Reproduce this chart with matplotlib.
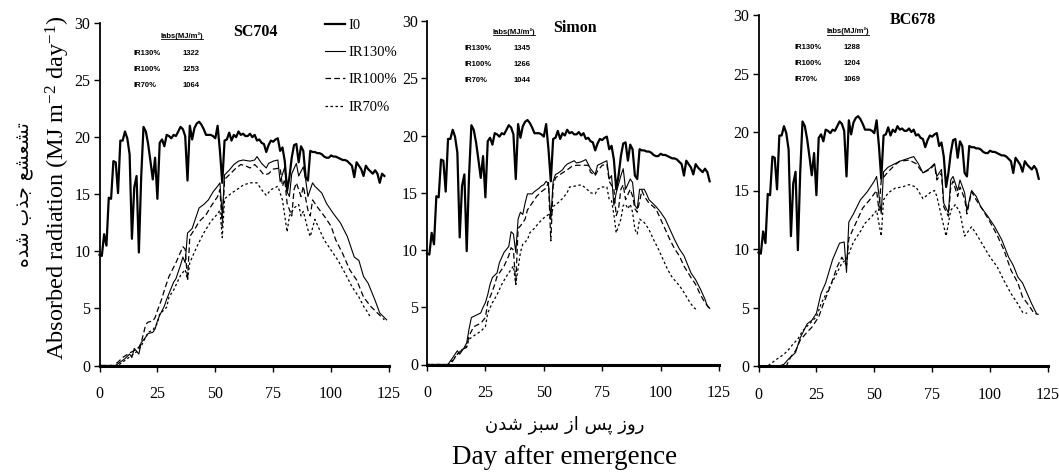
"""
Daily incident and absorbed radiation for three maize hybrids.

Three panels (SC704, Simon, BC678) share the incident radiation curve I0 and
each show the radiation absorbed under three irrigation levels. The small
table in each panel gives the seasonal total of absorbed radiation.

Values were read off the published figure by eye.

Run with:
    python plot.py
"""

import matplotlib
matplotlib.use("Agg")
import matplotlib.pyplot as plt
from matplotlib.lines import Line2D


# Incident radiation, one value per day after emergence (day 0 .. 123).
I0_DAILY = [
    9.7, 9.6, 11.5, 10.5, 14.7, 14.6, 17.9, 17.8, 15.1, 19.7,
    19.7, 20.5, 19.9, 18.5, 11.1, 15.6, 16.6, 9.9, 16.5, 20.9,
    20.5, 19.4, 17.9, 16.3, 18.2, 14.6, 19.5, 19.8, 19.2, 20.2,
    20.1, 19.9, 20.2, 20.1, 20.5, 20.9, 20.7, 20.1, 16.2, 21.0,
    19.8, 20.8, 21.2, 21.35, 21.1, 20.7, 20.2, 20.2, 20.2, 20.1,
    19.9, 21.0, 18.8, 16.0, 19.7, 19.8, 20.4, 19.7, 20.2, 20.0,
    20.5, 20.2, 20.3, 20.1, 20.1, 20.3, 20.0, 20.2, 19.7, 19.8,
    19.5, 19.4, 18.7, 19.3, 19.7, 19.6, 19.8, 19.9, 18.8, 19.1,
    17.9, 15.3, 16.5, 18.2, 19.3, 19.4, 17.8, 19.2, 18.8, 16.5,
    16.2, 18.8, 18.7, 18.7, 18.6, 18.6, 18.5, 18.3, 18.2, 18.2,
    18.4, 18.3, 18.3, 18.2, 18.1, 18.0, 18.0, 17.9, 17.7, 17.5,
    16.5, 17.8, 17.5, 17.2, 16.6, 17.5, 17.2, 17.0, 16.8, 17.1,
    16.8, 16.0, 16.8, 16.6,
]

HYBRIDS = ["SC704", "Simon", "BC678"]
# last day of I0 drawn in each panel
I0_LAST_DAY = [123, 121, 121]

TREATMENTS = ["IR130%", "IR100%", "IR70%"]
# seasonal absorbed radiation, MJ/m2, rows follow TREATMENTS
IABS_TOTALS = [
    [1322, 1253, 1064],
    [1345, 1266, 1044],
    [1288, 1204, 1069],
]

# absorbed radiation, (day, MJ m-2 day-1)
SC704_IR130 = [
    (0, 0), (7, 0), (9, 0.3), (11, 0.6), (13, 1.0), (14, 0.7), (15, 1.5),
    (17, 1.0), (18, 2.0), (20, 2.5), (21, 2.8), (23, 2.9), (24, 3.2),
    (25, 3.9), (26, 4.4), (28, 5.2), (29, 5.8), (30, 6.3), (32, 7.3),
    (33, 7.6), (35, 8.8), (36, 9.5), (37, 9.0), (38, 11.6), (40, 12.0),
    (41, 12.6), (43, 13.8), (45, 14.1), (47, 14.5), (49, 15.2), (51, 15.7),
    (52, 16.0), (53, 13.1), (54, 16.7), (56, 17.1), (58, 17.6), (60, 17.9),
    (62, 18.0), (65, 17.9), (67, 18.0), (68, 18.3), (70, 17.7), (72, 17.3),
    (73, 17.7), (75, 17.9), (77, 18.0), (78, 16.1), (80, 17.4), (81, 15.2),
    (82, 14.8), (83, 16.8), (85, 17.7), (86, 16.6), (88, 17.4), (89, 16.3),
    (90, 14.8), (92, 16.0), (93, 15.7), (96, 15.1), (98, 14.2), (101, 13.3),
    (104, 12.5), (107, 11.3), (110, 9.5), (112, 9.2), (114, 7.8), (116, 7.2),
    (119, 5.7), (121, 4.6), (123, 4.2), (124, 4.0),
]
SC704_IR100 = [
    (0, 0), (6, 0), (8, 0.3), (10, 0.7), (13, 1.1), (15, 1.3), (17, 1.6),
    (18, 2.0), (20, 3.6), (21, 3.8), (23, 3.9), (24, 4.2), (25, 4.8),
    (27, 5.9), (28, 6.6), (30, 7.8), (33, 9.0), (36, 10.4), (37, 10.2),
    (38, 7.5), (39, 11.3), (41, 11.9), (43, 12.6), (46, 13.2), (48, 13.9),
    (51, 14.8), (52, 15.4), (53, 12.2), (54, 16.3), (57, 16.9), (59, 17.3),
    (61, 17.6), (63, 17.5), (65, 17.3), (67, 17.6), (69, 17.2), (71, 16.7),
    (73, 16.8), (75, 17.2), (78, 17.3), (79, 15.7), (80, 16.3), (81, 14.2),
    (83, 13.1), (84, 15.4), (85, 16.0), (87, 14.8), (88, 15.7), (90, 13.6),
    (91, 13.1), (92, 14.5), (94, 13.9), (97, 13.1), (100, 12.2), (102, 11.0),
    (105, 9.8), (108, 8.4), (111, 7.5), (114, 6.0), (117, 5.2), (120, 4.6),
    (122, 4.2), (123, 4.0),
]
SC704_IR70 = [
    (0, 0), (8, 0), (10, 0.3), (12, 0.6), (14, 0.9), (16, 1.2), (18, 1.7),
    (21, 2.9), (23, 3.1), (25, 3.7), (26, 4.5), (29, 5.1), (30, 6.0),
    (32, 6.6), (35, 7.9), (37, 8.4), (38, 7.5), (39, 9.0), (42, 10.4),
    (45, 11.6), (48, 12.6), (51, 13.3), (52, 13.6), (53, 11.2), (54, 14.6),
    (57, 15.1), (60, 15.5), (62, 15.8), (65, 16.0), (68, 16.0), (70, 15.4),
    (72, 14.9), (74, 15.4), (77, 15.7), (79, 14.5), (80, 13.1), (81, 11.7),
    (82, 13.1), (84, 13.8), (86, 14.1), (87, 13.1), (88, 13.5), (90, 11.9),
    (91, 11.3), (93, 12.8), (95, 11.9), (97, 11.0), (100, 10.1), (103, 9.2),
    (106, 8.1), (109, 6.9), (112, 6.0), (114, 5.2), (116, 4.6), (117, 4.2),
]

SIMON_IR130 = [
    (0, 0), (9, 0), (11, 0.6), (13, 1.2), (14, 0.9), (16, 1.5), (17, 1.9),
    (18, 3.1), (19, 4.1), (21, 4.3), (23, 4.5), (24, 5.0), (25, 5.4),
    (26, 6.1), (27, 7.0), (28, 7.6), (30, 8.0), (31, 8.9), (33, 9.8),
    (35, 10.3), (36, 11.6), (37, 11.4), (38, 9.8), (39, 12.7), (40, 13.3),
    (41, 13.1), (42, 14.1), (43, 14.9), (45, 14.9), (46, 15.1), (48, 15.4),
    (49, 15.6), (50, 15.7), (51, 16.0), (52, 15.8), (53, 12.7), (54, 16.0),
    (55, 16.6), (56, 16.7), (58, 17.0), (59, 17.3), (60, 17.5), (62, 17.7),
    (63, 17.8), (64, 17.6), (66, 17.7), (68, 17.9), (69, 17.5), (70, 17.1),
    (72, 16.6), (73, 17.4), (75, 17.6), (77, 17.8), (78, 16.2), (79, 16.5),
    (80, 13.9), (81, 15.0), (83, 16.5), (84, 17.1), (85, 15.3), (87, 16.2),
    (88, 15.9), (89, 13.9), (90, 13.6), (91, 15.3), (93, 15.3), (94, 14.9),
    (95, 14.4), (98, 13.8), (100, 13.3), (102, 12.7), (104, 11.8),
    (106, 10.9), (108, 10.1), (110, 9.5), (112, 8.5), (113, 8.0), (115, 7.4),
    (117, 6.6), (119, 5.7), (120, 5.1), (121, 4.9),
]
SIMON_IR100 = [
    (0, 0), (10, 0), (12, 0.6), (13, 0.9), (15, 1.3), (17, 1.5), (18, 2.5),
    (20, 3.3), (23, 3.6), (25, 4.1), (26, 5.4), (28, 6.4), (29, 7.0),
    (30, 7.7), (33, 8.6), (35, 9.5), (36, 10.2), (37, 10.0), (38, 7.0),
    (39, 11.9), (40, 12.1), (42, 12.7), (43, 13.5), (45, 14.1), (47, 14.7),
    (49, 15.1), (51, 15.4), (52, 15.9), (53, 10.8), (54, 15.6), (55, 16.3),
    (57, 16.6), (60, 17.0), (62, 17.3), (64, 17.4), (67, 17.4), (69, 17.4),
    (70, 16.8), (72, 16.5), (73, 16.9), (75, 17.4), (77, 17.5), (78, 16.0),
    (80, 15.3), (81, 13.0), (82, 13.6), (83, 15.3), (84, 15.7), (85, 14.4),
    (87, 15.3), (88, 14.7), (89, 13.6), (90, 13.3), (92, 15.2), (93, 14.7),
    (95, 14.1), (98, 13.6), (100, 12.7), (102, 11.8), (104, 10.9),
    (106, 10.1), (108, 9.5), (110, 8.6), (113, 7.6), (115, 7.0), (117, 6.1),
    (119, 5.4), (121, 4.9),
]
SIMON_IR70 = [
    (0, 0), (9, 0), (11, 0.4), (13, 0.9), (15, 1.3), (17, 1.6), (18, 2.2),
    (20, 2.5), (23, 2.9), (25, 3.3), (26, 4.5), (28, 5.4), (30, 6.1),
    (32, 7.0), (34, 7.7), (36, 8.3), (37, 8.6), (38, 7.0), (40, 9.8),
    (41, 10.5), (43, 10.9), (44, 11.5), (46, 11.9), (48, 12.4), (50, 12.8),
    (52, 13.1), (53, 12.7), (54, 13.8), (56, 14.1), (58, 14.5), (60, 15.0),
    (61, 15.5), (64, 15.6), (66, 15.7), (68, 15.4), (70, 15.0), (72, 14.9),
    (73, 15.3), (75, 15.5), (77, 15.5), (78, 14.4), (79, 14.3), (80, 13.1),
    (81, 11.5), (83, 12.7), (84, 13.9), (85, 14.0), (86, 13.6), (87, 14.0),
    (88, 13.3), (89, 11.8), (90, 11.4), (91, 12.7), (93, 12.4), (95, 11.8),
    (97, 10.9), (99, 10.1), (101, 9.2), (103, 8.3), (105, 7.6), (108, 6.9),
    (110, 6.3), (112, 5.6), (114, 5.0), (116, 4.7),
]

BC678_IR130 = [
    (0, 0), (9, 0), (11, 0.15), (13, 0.6), (16, 1.15), (18, 2.4), (21, 3.6),
    (23, 3.9), (25, 4.5), (27, 6.2), (29, 7.1), (32, 9.1), (35, 10.5),
    (37, 10.6), (38, 8.0), (39, 12.3), (41, 13.0), (44, 14.2), (47, 14.9),
    (50, 15.8), (51, 16.2), (53, 13.0), (54, 16.6), (56, 17.0), (59, 17.3),
    (61, 17.5), (64, 17.7), (67, 17.9), (69, 17.3), (71, 16.5), (74, 16.9),
    (76, 17.3), (77, 16.2), (79, 16.8), (80, 13.9), (82, 13.1), (83, 15.9),
    (84, 16.2), (86, 15.0), (87, 15.9), (89, 14.8), (90, 13.3), (92, 15.0),
    (94, 14.5), (96, 13.6), (99, 12.8), (102, 11.9), (105, 10.8), (108, 9.3),
    (110, 8.6), (112, 7.6), (114, 7.1), (116, 6.2), (118, 5.3), (120, 4.5),
]
BC678_IR100 = [
    (0, 0), (12, 0), (14, 0.8), (16, 1.3), (18, 2.2), (21, 2.9), (23, 3.3),
    (26, 4.2), (28, 5.3), (31, 6.8), (34, 8.5), (36, 9.3), (38, 8.6),
    (39, 10.9), (42, 12.2), (45, 13.5), (48, 14.2), (51, 15.0), (52, 13.3),
    (53, 15.9), (56, 16.6), (59, 17.2), (61, 17.5), (65, 17.6), (68, 17.3),
    (71, 16.5), (74, 16.8), (76, 17.2), (77, 15.9), (79, 16.5), (80, 13.6),
    (82, 12.8), (83, 15.3), (84, 15.8), (86, 14.5), (87, 15.3), (89, 14.3),
    (90, 13.0), (92, 14.9), (94, 14.2), (97, 13.3), (100, 12.3), (103, 11.2),
    (106, 9.9), (109, 8.2), (112, 7.1), (114, 5.9), (117, 5.1), (119, 4.5),
    (121, 4.4),
]
BC678_IR70 = [
    (0, 0), (4, 0), (5, 0.15), (8, 0.6), (11, 1.0), (13, 1.4), (15, 1.9),
    (17, 2.3), (19, 3.0), (22, 3.6), (25, 4.2), (27, 5.3), (30, 6.5),
    (33, 7.6), (36, 8.8), (38, 9.1), (41, 10.6), (44, 11.5), (46, 12.2),
    (49, 12.8), (51, 13.3), (53, 11.1), (54, 14.2), (56, 14.8), (59, 15.2),
    (62, 15.3), (65, 15.5), (68, 15.3), (71, 14.3), (74, 14.8), (76, 15.0),
    (77, 14.5), (79, 12.8), (81, 11.1), (83, 13.3), (85, 13.8), (87, 13.1),
    (89, 11.1), (92, 11.9), (94, 11.3), (97, 10.3), (100, 9.3), (103, 8.5),
    (106, 7.3), (109, 6.2), (112, 5.3), (114, 4.6), (116, 4.5),
]

ABSORBED = [
    [SC704_IR130, SC704_IR100, SC704_IR70],
    [SIMON_IR130, SIMON_IR100, SIMON_IR70],
    [BC678_IR130, BC678_IR100, BC678_IR70],
]

# Persian labels, stored as Arabic presentation forms in visual order
# because matplotlib does no shaping or bidi.
YLABEL_FA = "\uFEE9\uFEAA\uFEB7 \uFE8F\uFEAC\uFE9F \uFECA\uFEB8\uFECC\uFEB8\uFE97"
XLABEL_FA = "\uFEE5\uFEAA\uFEB7 \uFEB0\uFE92\uFEB3 \uFEAF\uFE8D \uFEB2\uFB58 \uFEAF\uFEED\uFEAD"
YLABEL_EN = "Absorbed radiation (MJ m$^{-2}$ day$^{-1}$)"
XLABEL_EN = "Day after emergence"

# ---- layout (pixels of a 1059 x 472 canvas) -------------------------------
W, H = 1059, 472
# left, bottom, width, height of each panel's axes
AXES_PX = [
    (99.5, 365.5, 289.5, 342.5),
    (427.0, 364.5, 292.0, 343.5),
    (758.5, 366.0, 289.5, 351.0),
]
TITLE_POS = [(0.537, 0.974), (0.507, 0.980), (0.534, 0.986)]
# label x, value right x, header centre x, header y, first row y, row step
INSET_POS = [
    (0.119, 0.347, 0.285, 0.962, 0.912, 0.047),
    (0.130, 0.353, 0.298, 0.968, 0.921, 0.047),
    (0.126, 0.351, 0.309, 0.954, 0.906, 0.045),
]
LINE_STYLES = [
    dict(ls="-", lw=0.8),
    dict(ls=(0, (4.5, 2.5)), lw=0.9),
    dict(ls=(0, (2.0, 2.0)), lw=0.9),
]
I0_STYLE = dict(ls="-", lw=1.6)

SERIF = ["Liberation Serif", "DejaVu Serif"]
SANS_SMALL = ["Liberation Sans Narrow", "Liberation Sans"]


def draw_panel(fig, k):
    l, b, w, h = AXES_PX[k]
    ax = fig.add_axes([l / W, 1 - b / H, w / W, h / H])

    n = I0_LAST_DAY[k] + 1
    ax.plot(range(n), I0_DAILY[:n], color="black", **I0_STYLE)
    for series, style in zip(ABSORBED[k], LINE_STYLES):
        days = [p[0] for p in series]
        vals = [p[1] for p in series]
        ax.plot(days, vals, color="black", **style)

    ax.set_xlim(0, 125)
    ax.set_ylim(0, 30)
    ax.set_xticks(range(0, 126, 25))
    ax.set_yticks(range(0, 31, 5))
    for side in ("top", "right"):
        ax.spines[side].set_visible(False)
    ax.spines["left"].set_linewidth(1.3)
    ax.spines["bottom"].set_linewidth(2.2)
    ax.tick_params(axis="both", direction="out", length=4, width=1,
                   labelsize=11.5)
    ax.tick_params(axis="x", pad=11)
    ax.tick_params(axis="y", pad=2.5)
    for line in ax.get_lines():
        line.set_clip_on(False)

    tx, ty = TITLE_POS[k]
    ax.text(tx, ty, HYBRIDS[k], transform=ax.transAxes, ha="center",
            va="center", fontsize=11.5, fontweight="bold")

    lx, vx, hx, hy, ry, step = INSET_POS[k]
    header = ax.text(hx, hy, "Iabs(MJ/m\u00b2)", transform=ax.transAxes,
                     ha="center", va="center", fontsize=5.5,
                     fontweight="bold", family=SANS_SMALL)
    for i, (name, total) in enumerate(zip(TREATMENTS, IABS_TOTALS[k])):
        y = ry - i * step
        ax.text(lx, y, name, transform=ax.transAxes, ha="left", va="center",
                fontsize=5.5, fontweight="bold", family=SANS_SMALL)
        ax.text(vx, y, str(total), transform=ax.transAxes, ha="right",
                va="center", fontsize=5.5, fontweight="bold",
                family=SANS_SMALL)
    return ax, header


def underline(fig, texts):
    """matplotlib has no underline, so draw one below each header."""
    fig.canvas.draw()
    renderer = fig.canvas.get_renderer()
    for t in texts:
        bb = t.get_window_extent(renderer)
        y = (bb.y0 + 0.5) / fig.bbox.height
        fig.add_artist(Line2D([bb.x0 / fig.bbox.width, bb.x1 / fig.bbox.width],
                              [y, y], transform=fig.transFigure,
                              color="black", lw=0.6))


if __name__ == "__main__":
    plt.rcParams["font.family"] = SERIF + ["DejaVu Sans"]
    plt.rcParams["mathtext.fontset"] = "custom"
    plt.rcParams["mathtext.rm"] = "Liberation Serif"
    plt.rcParams["mathtext.it"] = "Liberation Serif:italic"

    fig = plt.figure(figsize=(W / 100, H / 100), dpi=100)

    axes, headers = [], []
    for k in range(len(HYBRIDS)):
        ax, header = draw_panel(fig, k)
        axes.append(ax)
        headers.append(header)

    handles = [Line2D([], [], color="black", **I0_STYLE)]
    handles += [Line2D([], [], color="black", **s) for s in LINE_STYLES]
    fig.legend(handles, ["I0"] + TREATMENTS, loc="upper left",
               bbox_to_anchor=(325 / W, 1 - 18.5 / H), frameon=False,
               fontsize=10.5, handlelength=1.4, handletextpad=0.2,
               labelspacing=0.97, borderpad=0, borderaxespad=0)

    fig.text(58 / W, 1 - 188 / H, YLABEL_EN, rotation=90, ha="center",
             va="center", fontsize=17.5)
    fig.text(24 / W, 1 - 195 / H, YLABEL_FA, rotation=90, ha="center",
             va="center", fontsize=13.5, family=["DejaVu Sans"])
    fig.text(565 / W, 1 - 425 / H, XLABEL_FA, ha="center", va="center",
             fontsize=13, family=["DejaVu Sans"])
    fig.text(565 / W, 1 - 457 / H, XLABEL_EN, ha="center", va="center",
             fontsize=19.5)

    underline(fig, headers)
    fig.savefig("out.png", dpi=100)
    plt.close(fig)
